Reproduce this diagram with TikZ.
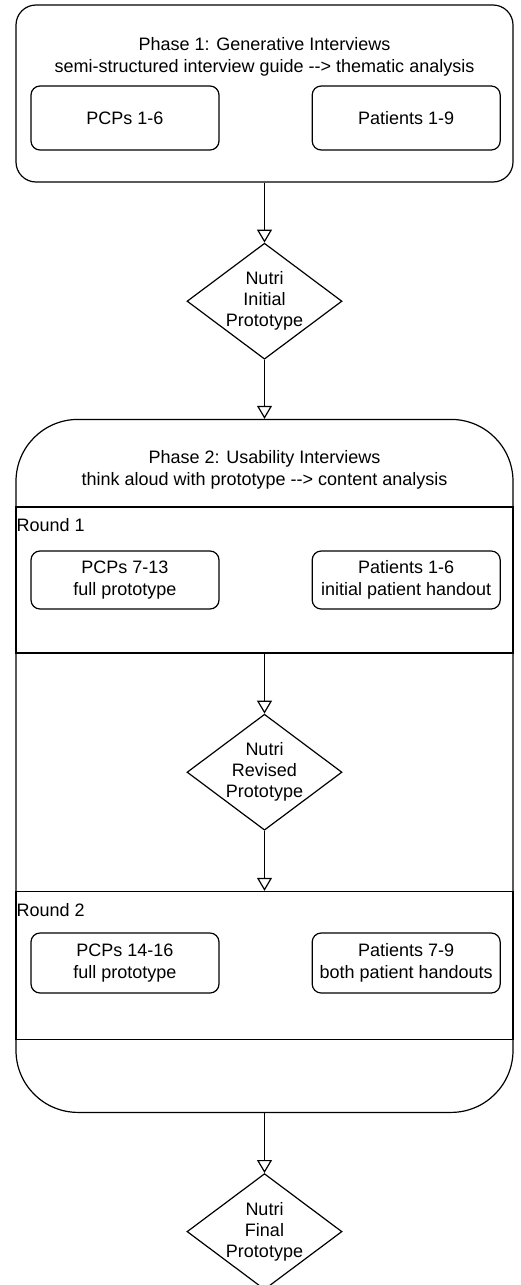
\documentclass[tikz,border=0pt]{standalone}
\usepackage{fontspec}
\setmainfont{Liberation Sans}
\usetikzlibrary{arrows.meta,shapes,positioning}

\tikzset{
  phasebox/.style={draw, line width=1.2pt, minimum width=497pt, inner sep=0},
  lane/.style={draw, line width=1.2pt, minimum width=497pt, inner sep=0},
  group/.style={draw, rounded corners=9pt, line width=1.2pt, minimum width=188pt, align=center, inner sep=0},
  proto/.style={diamond, draw, line width=1.2pt, minimum width=155pt, minimum height=116pt, inner sep=-12pt, align=center, font=\fontsize{18}{21}\selectfont},
  flow/.style={line width=1.2pt, -{Triangle[open, length=13pt, width=15pt]}},
}

\begin{document}
\begin{tikzpicture}[x=1pt, y=-1pt, node distance=60pt, font=\fontsize{18}{22.5}\selectfont]
\useasboundingbox (0,0) rectangle (521,1285);

% phase 1
\node [phasebox, rounded corners=20pt, minimum height=177pt] (phase1) at (264.5,93.5) {};
\node [align=center, inner sep=0] (title1) at (264.5,57) {Phase 1: Generative Interviews\\semi-structured interview guide -{}-> thematic analysis};
\node [group, minimum height=64pt] (pcp1) at (125,118) {PCPs 1-6};
\node [group, minimum height=64pt, right=92pt of pcp1] (pat1) {Patients 1-9};

\node [proto, below=of phase1] (init) {Nutri\\Initial\\Prototype};

% phase 2
\node [phasebox, rounded corners=62pt, minimum height=693pt, below=59pt of init] (phase2) {};
\node [align=center, inner sep=0] (title2) at (264.5,470) {Phase 2: Usability Interviews\\think aloud with prototype -{}-> content analysis};

\node [lane, minimum height=146pt] (round1) at (264.5,580) {};
\node [inner sep=0, below right=12pt and 1pt of round1.north west] (r1label) {Round 1};
\node [group, minimum height=58pt] (pcp2) at (125,580) {PCPs 7-13\\full prototype};
\node [group, minimum height=58pt, right=92pt of pcp2] (pat2) {Patients 1-6\\initial patient handout};

\node [proto, below=of round1] (revised) {Nutri\\Revised\\Prototype};

\node [lane, minimum height=148pt, below=of revised] (round2) {};
\node [inner sep=0, below right=12pt and 1pt of round2.north west] (r2label) {Round 2};
\node [group, minimum height=60pt] (pcp3) at (125,963) {PCPs 14-16\\full prototype};
\node [group, minimum height=60pt, right=92pt of pcp3] (pat3) {Patients 7-9\\both patient handouts};

\node [proto, below=of phase2] (final) {Nutri\\Final\\Prototype};

\draw [flow] (phase1) -- (init);
\draw [flow] (init) -- (phase2);
\draw [flow] (round1) -- (revised);
\draw [flow] (revised) -- (round2);
\draw [flow] (phase2) -- (final);
\end{tikzpicture}
\end{document}
